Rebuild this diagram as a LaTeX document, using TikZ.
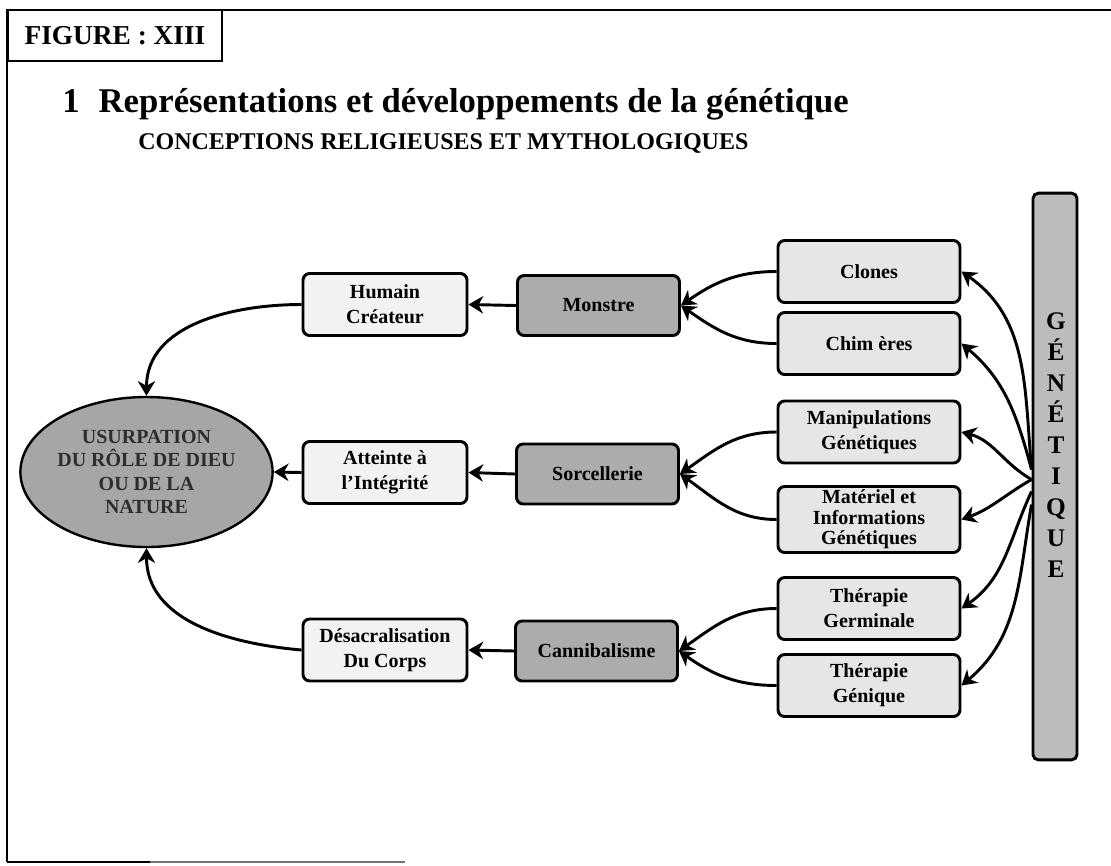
\documentclass[tikz,border=0pt]{standalone}
\usepackage{fontspec}
\setmainfont{Liberation Serif}
\usetikzlibrary{shapes.geometric,arrows.meta,calc}

\definecolor{paleFill}{RGB}{242,242,242}
\definecolor{lightFill}{RGB}{230,230,230}
\definecolor{midFill}{RGB}{172,172,172}
\definecolor{ovalFill}{RGB}{166,166,166}
\definecolor{barFill}{RGB}{188,188,188}
\definecolor{ovalText}{RGB}{45,45,45}

\begin{document}
\begin{tikzpicture}[x=0.75pt,y=0.75pt,
  every node/.style={font=\bfseries\fontsize{15}{18.75}\selectfont, align=center, inner sep=0pt},
  box/.style={draw=black, line width=2.2pt, rounded corners=5pt, minimum height=46.5pt},
  leftbox/.style={box, fill=paleFill, minimum width=123pt},
  midbox/.style={box, fill=midFill, minimum width=121.5pt, minimum height=45pt},
  rightbox/.style={box, fill=lightFill, minimum width=136.5pt},
  link/.style={line width=2.2pt, -{Stealth[length=11pt,width=13pt,inset=3.5pt]}},
]
\useasboundingbox (0,0) rectangle (1111,-865);
\fill[white] (0,0) rectangle (1111,-865);

% page frame
\draw[line width=2.2pt] (7,-862) -- (7,-10) -- (1111,-10);
\draw[line width=1.6pt] (7,-862) -- (150,-862);
\draw[line width=1pt, black!55] (150,-862) -- (405,-862);

% heading
\node[draw, line width=2.2pt, minimum width=160.5pt, minimum height=38.25pt,
      font=\bfseries\fontsize{20.5}{24}\selectfont] (fig) at (115,-35.5) {FIGURE : XIII};
\node[anchor=base west, font=\bfseries\fontsize{26}{30}\selectfont] (title) at (62,-112)
  {1\hspace{0.55em}Représentations et développements de la génétique};
\node[anchor=base west, font=\bfseries\fontsize{18}{21}\selectfont] (subtitle) at (138,-149)
  {CONCEPTIONS RELIGIEUSES ET MYTHOLOGIQUES};

% central idea
\node[ellipse, draw, line width=1.8pt, fill=ovalFill, minimum width=167pt, minimum height=112.5pt,
      font=\bfseries\fontsize{15}{17.5}\selectfont, text=ovalText] (god) at (146.5,-472)
  {USURPATION\\DU RÔLE DE DIEU\\OU DE LA\\NATURE};

% genetics bar
\node[draw, line width=2.2pt, rounded corners=4pt, fill=barFill, minimum width=33pt,
      minimum height=425pt] (bar) at (1055,-476.5) {};
\node[font=\bfseries\fontsize{19}{23.25}\selectfont] (barlabel) at (1056,-445)
  {G\\É\\N\\É\\T\\I\\Q\\U\\E};

% consequences
\node[leftbox] (human) at (385,-304.5) {Humain\\Créateur};
\node[leftbox] (integrity) at (385,-472.5) {Atteinte à\\l’Intégrité};
\node[leftbox] (body) at (385,-650) {Désacralisation\\Du Corps};

% images
\node[midbox] (monster) at (598.5,-305.5) {Monstre};
\node[midbox] (sorcery) at (597.5,-474) {Sorcellerie};
\node[midbox] (cannibal) at (596.5,-651) {Cannibalisme};

% techniques
\node[rightbox] (clones) at (869,-271.5) {Clones};
\node[rightbox] (chimeras) at (869,-343.5) {Chim ères};
\node[rightbox] (manip) at (869,-432) {Manipulations\\Génétiques};
\node[rightbox, minimum height=49.5pt, font=\bfseries\fontsize{15}{15.4}\selectfont]
  (material) at (869,-519.5) {Matériel et\\Informations\\Génétiques};
\node[rightbox] (germline) at (869,-608.5) {Thérapie\\Germinale};
\node[rightbox] (gene) at (869,-685.5) {Thérapie\\Génique};

% starting points on the bar
\coordinate (hubA) at ($(bar.west)+(0,7)$);
\coordinate (hubB) at ($(bar.west)+(0,-3)$);
\coordinate (hubC) at ($(bar.west)+(0,-15)$);
\coordinate (hubD) at ($(bar.west)+(0,-28)$);

% bar -> techniques
\draw[link] (hubA) to[out=95, in=-35] (clones.east);
\draw[link] (hubA) to[out=105, in=-40] (chimeras.east);
\draw[link] (hubB) to[out=150, in=-15] (manip.east);
\draw[link] (hubB) to[out=210, in=20] (material.east);
\draw[link] (hubC) to[out=245, in=35] (germline.east);
\draw[link] (hubD) to[out=260, in=40] (gene.east);

% techniques -> images
\draw[link] (clones.west) to[out=180, in=35] (monster.east);
\draw[link] (chimeras.west) to[out=180, in=-35] (monster.east);
\draw[link] (manip.west) to[out=180, in=35] (sorcery.east);
\draw[link] (material.west) to[out=180, in=-35] (sorcery.east);
\draw[link] (germline.west) to[out=180, in=35] (cannibal.east);
\draw[link] (gene.west) to[out=180, in=-35] (cannibal.east);

% images -> consequences
\draw[link] (monster.west) -- (human.east);
\draw[link] (sorcery.west) -- (integrity.east);
\draw[link] (cannibal.west) -- (body.east);

% consequences -> central idea
\draw[link] (human.west) to[out=180, in=90] (god.north);
\draw[link] (integrity.west) -- (god.east);
\draw[link] (body.west) to[out=175, in=-90] (god.south);
\end{tikzpicture}
\end{document}
